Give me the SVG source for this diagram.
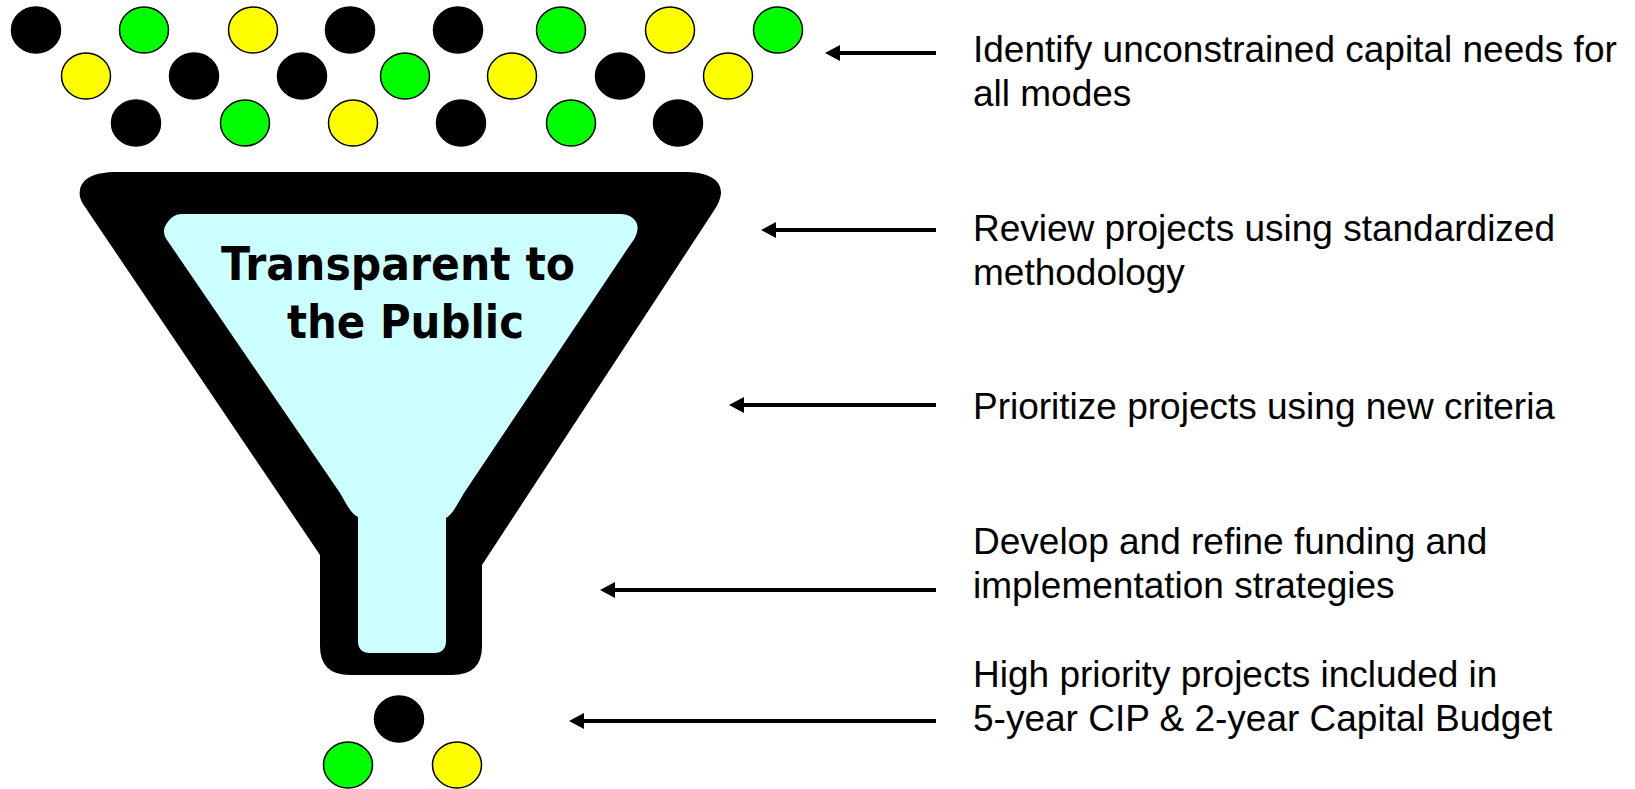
<svg xmlns="http://www.w3.org/2000/svg" width="1635" height="789" viewBox="0 0 1635 789">
  <style>
    .dot { stroke: #000; stroke-width: 1.5; }
    .blk { fill: #000; }
    .grn { fill: #00FF00; }
    .yel { fill: #FFFF00; }
    .step { font-family: "Liberation Sans", Arial, sans-serif; font-size: 37px; fill: #000; }
    .title { font-family: "DejaVu Sans", Verdana, sans-serif; font-weight: bold; font-size: 47px; fill: #000; }
    .conn { stroke: #000; stroke-width: 4; fill: none; }
  </style>
  <defs>
    <marker id="head" markerUnits="userSpaceOnUse" markerWidth="16" markerHeight="16" refX="5" refY="8" orient="auto" overflow="visible">
      <path d="M0,0 L15,8 L0,16 Z" fill="#000"/>
    </marker>
  </defs>
  <rect width="1635" height="789" fill="#fff"/>

  <!-- Unsorted project pool above the funnel -->
  <g id="project-pool">
    <ellipse class="dot blk" cx="36" cy="30" rx="24.5" ry="23"/>
    <ellipse class="dot grn" cx="144" cy="30" rx="24.5" ry="23"/>
    <ellipse class="dot yel" cx="253" cy="30" rx="24.5" ry="23"/>
    <ellipse class="dot blk" cx="350" cy="30" rx="24.5" ry="23"/>
    <ellipse class="dot blk" cx="458" cy="30" rx="24.5" ry="23"/>
    <ellipse class="dot grn" cx="561" cy="30" rx="24.5" ry="23"/>
    <ellipse class="dot yel" cx="670" cy="30" rx="24.5" ry="23"/>
    <ellipse class="dot grn" cx="778" cy="30" rx="24.5" ry="23"/>

    <ellipse class="dot yel" cx="86" cy="76" rx="24.5" ry="23"/>
    <ellipse class="dot blk" cx="194" cy="76" rx="24.5" ry="23"/>
    <ellipse class="dot blk" cx="302" cy="76" rx="24.5" ry="23"/>
    <ellipse class="dot grn" cx="405" cy="76" rx="24.5" ry="23"/>
    <ellipse class="dot yel" cx="512" cy="76" rx="24.5" ry="23"/>
    <ellipse class="dot blk" cx="620" cy="76" rx="24.5" ry="23"/>
    <ellipse class="dot yel" cx="728" cy="76" rx="24.5" ry="23"/>

    <ellipse class="dot blk" cx="136" cy="123" rx="24.5" ry="23"/>
    <ellipse class="dot grn" cx="245" cy="123" rx="24.5" ry="23"/>
    <ellipse class="dot yel" cx="353" cy="123" rx="24.5" ry="23"/>
    <ellipse class="dot blk" cx="461" cy="123" rx="24.5" ry="23"/>
    <ellipse class="dot grn" cx="571" cy="123" rx="24.5" ry="23"/>
    <ellipse class="dot blk" cx="678" cy="123" rx="24.5" ry="23"/>
  </g>

  <!-- Funnel -->
  <g id="funnel">
    <path fill="#000" d="M116,172 H684 C705,172 722,178 721,194 C720,200 718,204 715,209 L482,565 V646 Q482,675 452,675 H350 Q320,675 320,646 V555 L83,204 C80,199 79,195 80,190 C82,178 95,172 116,172 Z"/>
    <path fill="#CCFFFF" d="M182,214 H620 C632,214 640,222 637,232 C636,237 633,241 630,245 L464,493 C458,503 453,514 446,518 V641 Q446,653 434,653 H370 Q358,653 358,641 V517 C351,514 346,503 340,493 L167,240 C163,234 163,228 167,223 C171,217 176,214 182,214 Z"/>
    <text class="title" x="221" y="280" textLength="354" lengthAdjust="spacingAndGlyphs">Transparent to</text>
    <text class="title" x="287" y="338" textLength="237" lengthAdjust="spacingAndGlyphs">the Public</text>
  </g>

  <!-- Selected projects leaving the funnel -->
  <g id="selected-projects">
    <ellipse class="dot blk" cx="399" cy="719" rx="24.5" ry="23"/>
    <ellipse class="dot grn" cx="348" cy="765" rx="24.5" ry="23"/>
    <ellipse class="dot yel" cx="457" cy="765" rx="24.5" ry="23"/>
  </g>

  <!-- Arrows from each step label to the funnel stage -->
  <g id="connectors">
    <line class="conn" x1="936" y1="53" x2="835" y2="53" marker-end="url(#head)"/>
    <line class="conn" x1="936" y1="230" x2="771" y2="230" marker-end="url(#head)"/>
    <line class="conn" x1="936" y1="405" x2="739" y2="405" marker-end="url(#head)"/>
    <line class="conn" x1="936" y1="590" x2="610" y2="590" marker-end="url(#head)"/>
    <line class="conn" x1="936" y1="721" x2="579" y2="721" marker-end="url(#head)"/>
  </g>

  <!-- Step labels -->
  <g id="step-identify">
    <text class="step" x="973" y="62">Identify unconstrained capital needs for</text>
    <text class="step" x="973" y="106">all modes</text>
  </g>
  <g id="step-review">
    <text class="step" x="973" y="241">Review projects using standardized</text>
    <text class="step" x="973" y="285">methodology</text>
  </g>
  <g id="step-prioritize">
    <text class="step" x="973" y="419">Prioritize projects using new criteria</text>
  </g>
  <g id="step-develop">
    <text class="step" x="973" y="554">Develop and refine funding and</text>
    <text class="step" x="973" y="598">implementation strategies</text>
  </g>
  <g id="step-include">
    <text class="step" x="973" y="687">High priority projects included in</text>
    <text class="step" x="973" y="731">5-year CIP &amp; 2-year Capital Budget</text>
  </g>
</svg>
